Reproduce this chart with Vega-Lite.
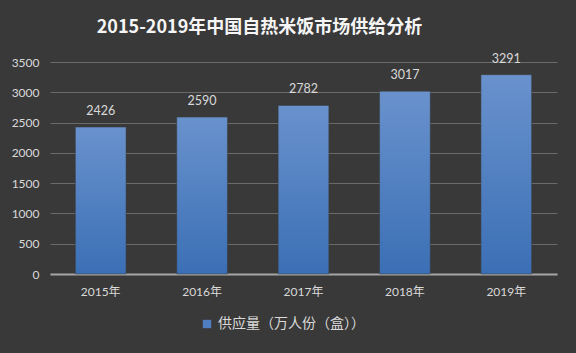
{
  "$schema": "https://vega.github.io/schema/vega-lite/v6.json",
  "width": 507,
  "height": 212,
  "autosize": {"type": "none"},
  "padding": {"left": 50, "top": 62, "right": 19, "bottom": 79},
  "background": "#393939",
  "config": {
    "view": {"stroke": null},
    "font": "Lato, Noto Sans CJK SC",
    "axis": {"labelFont": "Lato, Noto Sans CJK SC", "labelColor": "#d9d9d9", "labelFontSize": 12},
    "legend": {"labelFont": "Lato, Noto Sans CJK SC", "labelColor": "#d9d9d9", "labelFontSize": 12}
  },
  "title": {
    "text": "2015-2019年中国自热米饭市场供给分析",
    "font": "Noto Sans CJK SC",
    "fontSize": 18,
    "fontWeight": "bold",
    "color": "#f5f5f5",
    "anchor": "middle",
    "frame": "group",
    "dx": -44,
    "offset": 16,
    "letterSpacing": 0.5
  },
  "data": {
    "values": [
      {"year": "2015年", "value": 2426, "series": "供应量（万人份（盒））"},
      {"year": "2016年", "value": 2590, "series": "供应量（万人份（盒））"},
      {"year": "2017年", "value": 2782, "series": "供应量（万人份（盒））"},
      {"year": "2018年", "value": 3017, "series": "供应量（万人份（盒））"},
      {"year": "2019年", "value": 3291, "series": "供应量（万人份（盒））"}
    ]
  },
  "encoding": {
    "x": {
      "field": "year",
      "type": "nominal",
      "sort": null,
      "scale": {"paddingInner": 0.5, "paddingOuter": 0.25},
      "axis": {
        "title": null,
        "labelAngle": 0,
        "ticks": false,
        "labelPadding": 12,
        "domainColor": "#a6a6a6",
        "domainWidth": 2
      }
    },
    "y": {
      "field": "value",
      "type": "quantitative",
      "scale": {"domain": [0, 3500]},
      "axis": {
        "title": null,
        "format": "d",
        "values": [0, 500, 1000, 1500, 2000, 2500, 3000, 3500],
        "ticks": false,
        "domain": false,
        "labelPadding": 11,
        "gridColor": "#6a6a6a",
        "gridWidth": 1
      }
    }
  },
  "layer": [
    {
      "mark": {
        "type": "bar",
        "stroke": "#3a3a3a",
        "strokeWidth": 0.5,
        "color": {
          "gradient": "linear",
          "x1": 0, "y1": 0, "x2": 0, "y2": 1,
          "stops": [
            {"offset": 0, "color": "#6992cd"},
            {"offset": 1, "color": "#3b6fb5"}
          ]
        }
      }
    },
    {
      "mark": {"type": "bar", "opacity": 0},
      "encoding": {
        "color": {
          "field": "series",
          "type": "nominal",
          "scale": {"range": ["#4f7fc2"]},
          "legend": {
            "title": null,
            "orient": "none",
            "legendX": 150,
            "legendY": 255,
            "symbolType": "square",
            "symbolSize": 70,
            "symbolOpacity": 1,
            "symbolFillColor": "#4f7fc2",
            "symbolStrokeWidth": 0,
            "labelFontSize": 14
          }
        }
      }
    },
    {
      "mark": {"type": "text", "baseline": "alphabetic", "dy": -12, "fontSize": 12.5, "color": "#d9d9d9"},
      "encoding": {"text": {"field": "value", "type": "quantitative", "format": "d"}}
    }
  ]
}
